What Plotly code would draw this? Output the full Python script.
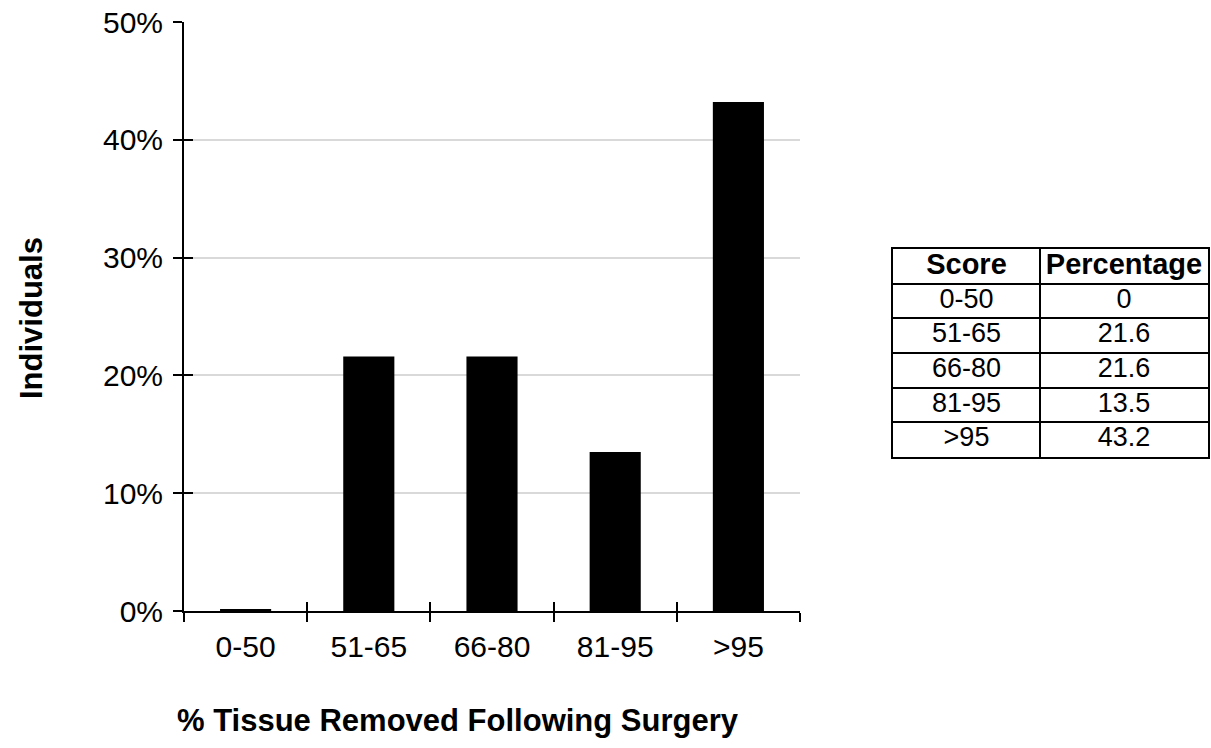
import plotly.graph_objects as go

# Score bands and share of individuals (%) in each band
scores = ["0-50", "51-65", "66-80", "81-95", ">95"]
percentages = [0, 21.6, 21.6, 13.5, 43.2]
y_ticks = [0, 10, 20, 30, 40, 50]
table_header = ["Score", "Percentage"]

W, H = 1211, 748
FONT = "Liberation Sans, Arial, Helvetica, sans-serif"

# plot area in pixels
px_left, px_right = 184, 800
px_top, px_bottom = 22, 611

xdom = [px_left / W, px_right / W]
ydom = [(H - px_bottom) / H, (H - px_top) / H]

# table box in pixels and its column widths
tb_left, tb_right, tb_top, tb_bottom = 893, 1208, 249, 457
col_widths = [147, 168]

fig = go.Figure()

# zero-valued bars still show as a thin outline
line_widths = [4 if v == 0 else 0 for v in percentages]

fig.add_trace(go.Bar(
    x=scores,
    y=percentages,
    marker=dict(color="black", line=dict(color="black", width=line_widths)),
    showlegend=False,
    hoverinfo="x+y",
))

# anchor trace so the mirror axes are drawn
fig.add_trace(go.Scatter(x=[], y=[], xaxis="x2", yaxis="y2",
                         showlegend=False, hoverinfo="skip"))

# summary table: its own axes, grid lines act as cell borders
n_rows = len(scores) + 1
col_centers = [col_widths[0] / 2, col_widths[0] + col_widths[1] / 2]
row_centers = [i + 0.5 for i in range(n_rows)]

fig.add_trace(go.Scatter(
    x=col_centers, y=[0.5, 0.5],
    text=[f"<b>{h}</b>" for h in table_header],
    mode="text", textposition="middle center",
    textfont=dict(family=FONT, size=29, color="black"),
    xaxis="x3", yaxis="y3", showlegend=False, hoverinfo="skip",
))
fig.add_trace(go.Scatter(
    x=[col_centers[0]] * len(scores), y=row_centers[1:],
    text=scores,
    mode="text", textposition="middle center",
    textfont=dict(family=FONT, size=27, color="black"),
    xaxis="x3", yaxis="y3", showlegend=False, hoverinfo="skip",
))
fig.add_trace(go.Scatter(
    x=[col_centers[1]] * len(percentages), y=row_centers[1:],
    text=[f"{v:g}" for v in percentages],
    mode="text", textposition="middle center",
    textfont=dict(family=FONT, size=27, color="black"),
    xaxis="x3", yaxis="y3", showlegend=False, hoverinfo="skip",
))

table_axis = dict(
    showline=True, mirror=True, linecolor="black", linewidth=2,
    showgrid=True, gridcolor="black", gridwidth=2,
    zeroline=False, showticklabels=False, ticks="",
    fixedrange=True,
)

fig.update_layout(
    width=W,
    height=H,
    template="none",
    paper_bgcolor="white",
    plot_bgcolor="white",
    margin=dict(l=0, r=0, t=0, b=0, autoexpand=False),
    bargap=0.585,
    font=dict(family=FONT, color="black"),
    xaxis=dict(
        domain=xdom,
        anchor="y",
        type="category",
        range=[-0.5, 4.5],
        tickson="boundaries",
        ticks="outside",
        ticklen=9,
        tickwidth=2,
        tickcolor="black",
        showline=True,
        linecolor="black",
        linewidth=2,
        showgrid=False,
        zeroline=False,
        automargin=False,
        tickfont=dict(family=FONT, size=30, color="black"),
        ticklabelstandoff=8,
    ),
    yaxis=dict(
        domain=ydom,
        anchor="x",
        range=[0, 50],
        tickvals=y_ticks,
        ticktext=[f"{t}%" for t in y_ticks],
        ticks="outside",
        ticklen=9,
        tickwidth=2,
        tickcolor="black",
        showline=True,
        linecolor="black",
        linewidth=2,
        showgrid=True,
        gridcolor="#d9d9d9",
        gridwidth=1.5,
        zeroline=False,
        automargin=False,
        tickfont=dict(family=FONT, size=30, color="black"),
        ticklabelstandoff=4,
    ),
    # mirror axes carrying the inner half of each tick mark
    xaxis2=dict(
        domain=xdom,
        anchor="y2",
        overlaying="x",
        range=[-0.5, 4.5],
        tickvals=[i - 0.5 for i in range(len(scores) + 1)],
        ticks="inside",
        ticklen=9,
        tickwidth=2,
        tickcolor="black",
        showticklabels=False,
        showline=False,
        showgrid=False,
        zeroline=False,
    ),
    yaxis2=dict(
        domain=ydom,
        anchor="x2",
        overlaying="y",
        range=[0, 50],
        tickvals=y_ticks,
        ticks="inside",
        ticklen=9,
        tickwidth=2,
        tickcolor="black",
        showticklabels=False,
        showline=False,
        showgrid=False,
        zeroline=False,
    ),
    xaxis3=dict(
        domain=[tb_left / W, tb_right / W],
        anchor="y3",
        range=[0, sum(col_widths)],
        tickvals=[col_widths[0]],
        **table_axis,
    ),
    yaxis3=dict(
        domain=[(H - tb_bottom) / H, (H - tb_top) / H],
        anchor="x3",
        range=[n_rows, 0],
        tickvals=list(range(1, n_rows)),
        **table_axis,
    ),
    annotations=[
        dict(
            text="<b>% Tissue Removed Following Surgery</b>",
            x=458 / W, y=(H - 720) / H,
            xref="paper", yref="paper",
            showarrow=False,
            font=dict(family=FONT, size=31, color="black"),
            xanchor="center", yanchor="middle",
        ),
        dict(
            text="<b>Individuals</b>",
            x=31 / W, y=(H - 318) / H,
            xref="paper", yref="paper",
            showarrow=False,
            textangle=-90,
            font=dict(family=FONT, size=31, color="black"),
            xanchor="center", yanchor="middle",
        ),
    ],
)

fig.write_html("out.html")
